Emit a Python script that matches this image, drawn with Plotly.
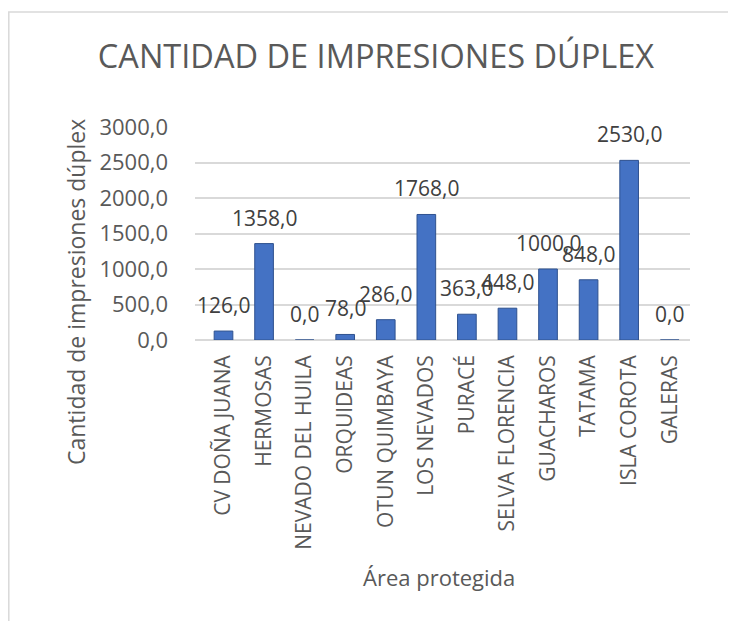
import plotly.graph_objects as go

areas = ["CV DOÑA JUANA", "HERMOSAS", "NEVADO DEL HUILA", "ORQUIDEAS",
         "OTUN QUIMBAYA", "LOS NEVADOS", "PURACÉ", "SELVA FLORENCIA",
         "GUACHAROS", "TATAMA", "ISLA COROTA", "GALERAS"]
impresiones = [126, 1358, 0, 78, 286, 1768, 363, 448, 1000, 848, 2530, 0]
y_ticks = [0, 500, 1000, 1500, 2000, 2500, 3000]

FONT = "Open Sans"
TXT = "#595959"

# page body has an 8px margin, so everything is placed 8px up/left
fig = go.Figure()
fig.add_trace(go.Bar(
    x=areas, y=impresiones,
    marker=dict(color="#4472C4", line=dict(color="#2F528F", width=1)),
))

fig.update_layout(
    width=736, height=621,
    separators=",.",
    paper_bgcolor="white", plot_bgcolor="white",
    margin=dict(l=187, r=54, t=119, b=289),
    bargap=0.54,
    showlegend=False,
    title=dict(text="CANTIDAD DE IMPRESIONES DÚPLEX", x=0.5, xanchor="center",
               xref="container", y=1 - 49 / 621, yanchor="middle",
               font=dict(family=FONT, size=32.5, color=TXT)),
    font=dict(family=FONT, color=TXT),
)

fig.update_yaxes(range=[0, 3000], tickvals=y_ticks, tickformat=".1f",
                 showgrid=True, gridcolor="#D9D9D9", gridwidth=1.5,
                 zeroline=True, zerolinecolor="#D9D9D9", zerolinewidth=1.5,
                 showline=False, ticks="", ticklabelstandoff=26,
                 tickfont=dict(family=FONT, size=22, color=TXT))
fig.update_xaxes(tickangle=-90, showline=False, ticks="", showgrid=False,
                 ticklabelstandoff=10,
                 tickfont=dict(family=FONT, size=21, color=TXT))

# data labels, raised a bit like the 3D Excel labels
for a, v in zip(areas, impresiones):
    fig.add_annotation(x=a, y=v, text=f"{v:.1f}".replace(".", ","),
                       xanchor="center", yanchor="bottom", yshift=10,
                       showarrow=False,
                       font=dict(family=FONT, size=21, color="#404040"))

# axis titles placed like the Excel layout
fig.add_annotation(text="Cantidad de impresiones dúplex", textangle=-90,
                   xref="paper", yref="paper", x=(76 - 195) / 495, y=(340 - 292) / 213,
                   xanchor="center", yanchor="middle",
                   showarrow=False, font=dict(family=FONT, size=23, color=TXT))
fig.add_annotation(text="Área protegida",
                   xref="paper", yref="paper", x=(439 - 195) / 495, y=(340 - 577) / 213,
                   xanchor="center", yanchor="middle",
                   showarrow=False, font=dict(family=FONT, size=22, color=TXT))

# chart frame
fig.add_shape(type="rect", xref="paper", yref="paper",
              x0=(8.8 - 195) / 495, x1=1.2, y0=-1.5, y1=(340 - 12) / 213,
              line=dict(color="#D9D9D9", width=1.5), layer="below")

fig.write_html("out.html")
